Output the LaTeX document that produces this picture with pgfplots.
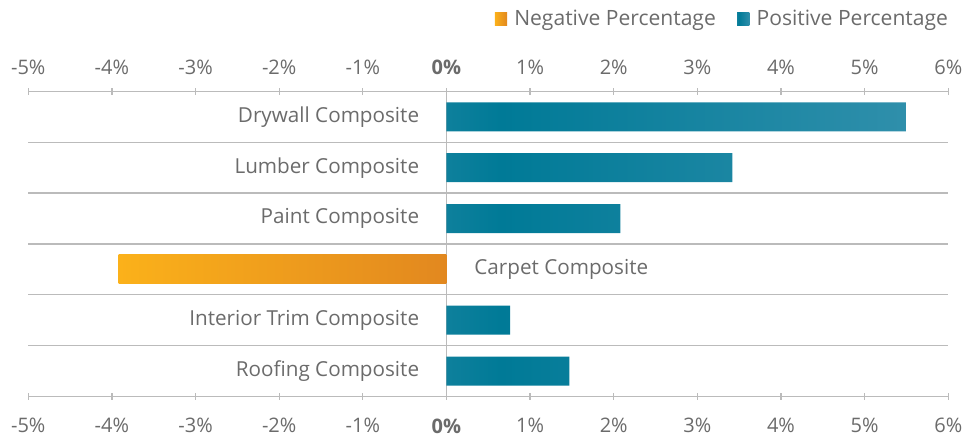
\documentclass[border=0pt]{standalone}
\usepackage{pgfplots}
\pgfplotsset{compat=1.18}
\usepackage{fontspec}
\setmainfont{Open Sans}
\definecolor{txt}{HTML}{6B6B6B}
\definecolor{gridc}{HTML}{BBBBBB}
\definecolor{t0}{HTML}{0E809C}
\definecolor{t1}{HTML}{007A97}
\definecolor{t2}{HTML}{2F8FAB}
\definecolor{o0}{HTML}{FBB11A}
\definecolor{o1}{HTML}{E2881F}
\pgfdeclarehorizontalshading{tealgrad}{100bp}{color(0bp)=(t0); color(25bp)=(t0); color(31bp)=(t1); color(75bp)=(t2); color(100bp)=(t2)}
\pgfdeclarehorizontalshading{orangegrad}{100bp}{color(0bp)=(o0); color(25bp)=(o0); color(75bp)=(o1); color(100bp)=(o1)}
\newcommand{\lblfont}{\fontsize{15.5pt}{18pt}\selectfont}
\newcommand{\legfont}{\fontsize{15.8pt}{18pt}\selectfont}
\newcommand{\tckfont}{\fontsize{15pt}{18pt}\selectfont}
\pgfplotsset{
  commonaxis/.style={
    width=690pt, height=228.75pt, scale only axis,
    xmin=-5, xmax=6,
    axis y line=none, ytick=\empty,
    x axis line style={draw=none},
    xtick={-5,-4,-3,-2,-1,0,1,2,3,4,5,6},
    xticklabels={-5\%,-4\%,-3\%,-2\%,-1\%,\textbf{0\%},1\%,2\%,3\%,4\%,5\%,6\%},
    tick align=outside, major tick length=5pt,
    every tick/.style={draw=gridc, line width=1pt},
    xticklabel style={font=\tckfont, text=txt},
    /pgf/number format/assume math mode=true,
  }
}
\begin{document}
\begin{tikzpicture}
\path (-21.2pt,-33.4pt) rectangle (713.8pt,297.35pt);
\begin{axis}[commonaxis,
  axis x line=bottom,
  xticklabel shift=10.5pt,
  ymin=-0.5, ymax=5.5, y dir=reverse,
  xbar, bar width=21.75pt, bar shift=0pt,
  clip=false,
  legend columns=2,
  legend style={at={(1,1)}, anchor=east, yshift=54.4pt, draw=none, fill=none,
    inner sep=0pt, font=\legfont, text=txt, nodes={inner sep=0pt},
    /tikz/every even column/.style={column sep=16pt}},
  legend image code/.code={\fill[#1,draw=none] (0pt,-4.6pt) rectangle (9.2pt,4.6pt); \path (14.6pt,0pt);},
]
\draw[gridc, line width=1pt] (axis cs:-5,-0.5) -- (axis cs:6,-0.5);
\draw[gridc, line width=1pt] (axis cs:-5,0.5) -- (axis cs:6,0.5);
\draw[gridc, line width=1pt] (axis cs:-5,1.5) -- (axis cs:6,1.5);
\draw[gridc, line width=1pt] (axis cs:-5,2.5) -- (axis cs:6,2.5);
\draw[gridc, line width=1pt] (axis cs:-5,3.5) -- (axis cs:6,3.5);
\draw[gridc, line width=1pt] (axis cs:-5,4.5) -- (axis cs:6,4.5);
\draw[gridc, line width=1pt] (axis cs:-5,5.5) -- (axis cs:6,5.5);
\draw[gridc, line width=1pt] (axis cs:0,-0.5) -- (axis cs:0,5.5);
\addplot[draw=none, shading=orangegrad] coordinates {(-3.92,3)};
\addlegendentry{Negative Percentage}
\addplot[draw=none, shading=tealgrad] coordinates {(5.50,0) (3.42,1) (2.08,2) (0.76,4) (1.47,5)};
\addlegendentry{Positive Percentage}
\node[anchor=east, inner sep=0pt, font=\lblfont, text=txt, xshift=-20.3pt] at (axis cs:0,0) {Drywall Composite};
\node[anchor=east, inner sep=0pt, font=\lblfont, text=txt, xshift=-20.3pt] at (axis cs:0,1) {Lumber Composite};
\node[anchor=east, inner sep=0pt, font=\lblfont, text=txt, xshift=-20.3pt] at (axis cs:0,2) {Paint Composite};
\node[anchor=west, inner sep=0pt, font=\lblfont, text=txt, xshift=20.8pt] at (axis cs:0,3) {Carpet Composite};
\node[anchor=east, inner sep=0pt, font=\lblfont, text=txt, xshift=-20.3pt] at (axis cs:0,4) {Interior Trim Composite};
\node[anchor=east, inner sep=0pt, font=\lblfont, text=txt, xshift=-20.3pt] at (axis cs:0,5) {Roofing Composite};
\end{axis}
\begin{axis}[commonaxis, axis x line=top, xticklabel shift=6.75pt, ymin=0, ymax=1]
\end{axis}
\end{tikzpicture}
\end{document}
